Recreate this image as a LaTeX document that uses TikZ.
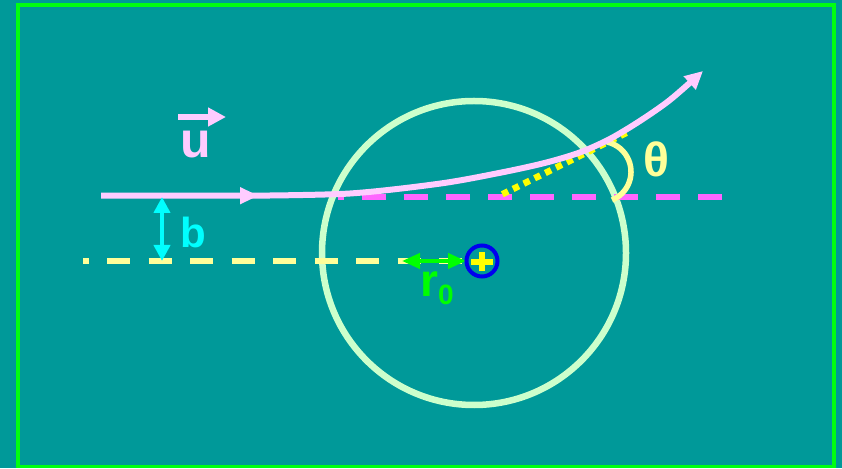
\documentclass[tikz,border=0pt]{standalone}
\usepackage{fontspec}
\setmainfont{Liberation Sans}
\usetikzlibrary{arrows.meta}
\definecolor{bg}{HTML}{009999}
\definecolor{framegreen}{HTML}{00FF11}
\definecolor{circcol}{HTML}{CCFFCC}
\definecolor{trajcol}{HTML}{FFCCFF}
\definecolor{magcol}{HTML}{FF66FF}
\definecolor{paleyellow}{HTML}{FFFF99}
\definecolor{brightyellow}{HTML}{FFFF00}
\definecolor{cyancol}{HTML}{00FFFF}
\definecolor{greencol}{HTML}{00FF00}
\definecolor{bluecol}{HTML}{0000EE}
\tikzset{
  lbl/.style={inner sep=0pt, anchor=base west, font=\bfseries},
  tipA/.style={-{Triangle[length=18pt,width=17pt]}},
  dbl/.style={{Triangle[length=16pt,width=16pt]}-{Triangle[length=16pt,width=16pt]}}
}
\begin{document}
\begin{tikzpicture}[x=1pt,y=1pt]
\useasboundingbox (0,0) rectangle (842,468);
\fill[bg] (0,0) rectangle (842,468);
\draw[framegreen, line width=3.5pt] (18,1.5) rectangle (834,463);

% big circle
\coordinate (C) at (474,215);
\draw[circcol, line width=6.5pt] (C) circle[radius=152];

% yellow dashed impact line
\coordinate (ya) at (107,207);
\coordinate (yb) at (466,207);
\fill[paleyellow] (83,204.2) rectangle (88.5,209.8);
\draw[paleyellow, line width=5.6pt, dash pattern=on 23pt off 18.5pt] (ya) -- (yb);

% magenta dashed line
\coordinate (ma) at (338,271);
\coordinate (mb) at (722,271);
\draw[magcol, line width=6pt, dash pattern=on 24pt off 18pt, dash phase=18pt] (ma) -- (mb);

% dotted tangent
\coordinate (ta) at (502.3,273.7);
\coordinate (tb) at (626.7,335.3);
\draw[brightyellow, line width=6.5pt, dash pattern=on 6.5pt off 5.5pt] (ta) -- (tb);

% angle arc
\coordinate (Ac) at (600.5,296.2);
\draw[paleyellow, line width=5.5pt] (Ac) ++(-67.8:30.5) arc[start angle=-67.8, end angle=77.7, radius=30.5];

% trajectory
\draw[trajcol, line width=6pt, tipA] (101,272.3) -- plot[smooth, tension=0.5] coordinates {(250,272.3) (350,274.5) (440,284.4) (500,295.2) (545,305.1) (580,315.6) (610,329.1) (640,347.1) (670,368.1) (703,397)};
\fill[trajcol] (240,281) -- (258,272.3) -- (240,263.6) -- cycle;

% b arrow
\coordinate (ba) at (162,271);
\coordinate (bb) at (162,207);
\draw[cyancol, line width=4pt, dbl] (ba) -- (bb);

% r0 arrow
\coordinate (ra) at (402,207);
\coordinate (rb) at (466,207);
\draw[greencol, line width=4pt, {Triangle[length=18pt,width=15pt]}-{Triangle[length=18pt,width=15pt]}] (ra) -- (rb);

% nucleus
\coordinate (N) at (482,207);
\draw[bluecol, line width=4pt] (N) circle[radius=15.5];
\draw[brightyellow, line width=6.5pt] (471,206) -- (493,206) (482,196.5) -- (482,215.5);

% u arrow
\coordinate (ua) at (178,351);
\coordinate (ub) at (226,351);
\draw[trajcol, line width=5.5pt, -{Triangle[length=18pt,width=18pt]}] (ua) -- (ub);

% labels
\node[lbl, text=trajcol, font=\bfseries\fontsize{50}{50}\selectfont] (u) at (180,310) {u};
\node[lbl, text=cyancol, font=\bfseries\fontsize{42}{42}\selectfont] (b) at (180,220) {b};
\node[lbl, text=paleyellow, font=\bfseries\fontsize{48}{48}\selectfont] (th) at (643.5,291) {θ};
\node[lbl, text=greencol, font=\bfseries\fontsize{46}{46}\selectfont] (r0) at (420,171) {r\raisebox{-8pt}{\fontsize{28}{28}\selectfont 0}};
\end{tikzpicture}
\end{document}
